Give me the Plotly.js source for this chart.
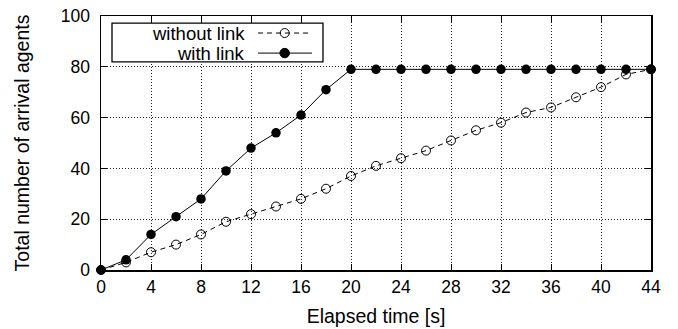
<!DOCTYPE html>
<html><head><meta charset="utf-8">
<script src="https://cdn.plot.ly/plotly-3.0.1.min.js"></script>
<style>html,body{margin:0;padding:0;background:#fff}#chart{width:678px;height:329px}</style>
</head><body><div id="chart"></div>
<script>
const timeSec = [0,2,4,6,8,10,12,14,16,18,20,22,24,26,28,30,32,34,36,38,40,42,44];
const withoutLink = [0,3,7,10,14,19,22,25,28,32,37,41,44,47,51,55,58,62,64,68,72,77,79];
const withLink = [0,4,14,21,28,39,48,54,61,71,79,79,79,79,79,79,79,79,79,79,79,79,79];
const seriesNames = ['without link','with link'];
const xTicks = [0,4,8,12,16,20,24,28,32,36,40,44];
const yTicks = [0,20,40,60,80,100];

const fam = 'Liberation Sans, Arial, sans-serif';
const tickFont = {family:fam, size:17.5, color:'#000'};
const xTitleFont = {family:fam, size:19.5, color:'#000'};
const yTitleFont = {family:fam, size:19.5, color:'#000'};
const legendFont = {family:fam, size:18.5, color:'#000'};

const traces = [
  {x:timeSec, y:withoutLink, name:seriesNames[0], mode:'lines+markers', cliponaxis:false,
   line:{color:'#000', width:1, dash:'5px,4px'},
   marker:{symbol:'circle-open', size:9, color:'#000', line:{width:1, color:'#000'}}},
  {x:timeSec, y:withLink, name:seriesNames[1], mode:'lines+markers', cliponaxis:false,
   line:{color:'#000', width:1},
   marker:{symbol:'circle', size:9.5, color:'#000'}}
];

// legend geometry (paper coords)
const lx0 = 0.02, lx1 = 0.4036, ly0 = 0.819, ly1 = 0.972;
const rows = [0.933, 0.854];
const sx0 = 0.2855, sx1 = 0.3836, sxm = 0.334;
const shapes = [
  {type:'rect', xref:'paper', yref:'paper', x0:lx0, x1:lx1, y0:ly0, y1:ly1,
   line:{color:'#000', width:1.3}, fillcolor:'#fff', layer:'above'},
  {type:'line', xref:'paper', yref:'paper', x0:sx0, x1:sx1, y0:rows[0], y1:rows[0],
   line:{color:'#000', width:1, dash:'5px,4px'}, layer:'above'},
  {type:'circle', xref:'paper', yref:'paper', xsizemode:'pixel', ysizemode:'pixel',
   xanchor:sxm, yanchor:rows[0], x0:-4.5, x1:4.5, y0:-4.5, y1:4.5,
   line:{color:'#000', width:1}, layer:'above'},
  {type:'line', xref:'paper', yref:'paper', x0:sx0, x1:sx1, y0:rows[1], y1:rows[1],
   line:{color:'#000', width:1}, layer:'above'},
  {type:'circle', xref:'paper', yref:'paper', xsizemode:'pixel', ysizemode:'pixel',
   xanchor:sxm, yanchor:rows[1], x0:-4.75, x1:4.75, y0:-4.75, y1:4.75,
   line:{color:'#000', width:1}, fillcolor:'#000', layer:'above'}
];
const annotations = seriesNames.map((n,i)=>({
  text:n, xref:'paper', yref:'paper', x:0.2655, y:rows[i], xanchor:'right', yanchor:'middle',
  showarrow:false, font:legendFont
}));

const axisCommon = {
  showline:true, linecolor:'#000', linewidth:1.5, mirror:'all',
  ticks:'inside', ticklen:6, tickwidth:1, tickcolor:'#000',
  showgrid:true, gridcolor:'#222', gridwidth:1, griddash:'1px,2px',
  zeroline:false, tickfont:tickFont, automargin:false
};

const layout = {
  width:678, height:329,
  margin:{l:101, r:27, t:16, b:59},
  paper_bgcolor:'#fff', plot_bgcolor:'#fff',
  showlegend:false,
  font:tickFont,
  xaxis:Object.assign({}, axisCommon, {
    range:[0,44], tickvals:xTicks, ticktext:xTicks.map(String),
    title:{text:'Elapsed time [s]', font:xTitleFont, standoff:14}
  }),
  yaxis:Object.assign({}, axisCommon, {
    range:[0,100], tickvals:yTicks, ticktext:yTicks.map(String),
    ticklabelstandoff:6,
    title:{text:'Total number of arrival agents', font:yTitleFont, standoff:26}
  }),
  shapes:shapes, annotations:annotations
};

Plotly.newPlot('chart', traces, layout, {staticPlot:true, displayModeBar:false});
</script></body></html>
